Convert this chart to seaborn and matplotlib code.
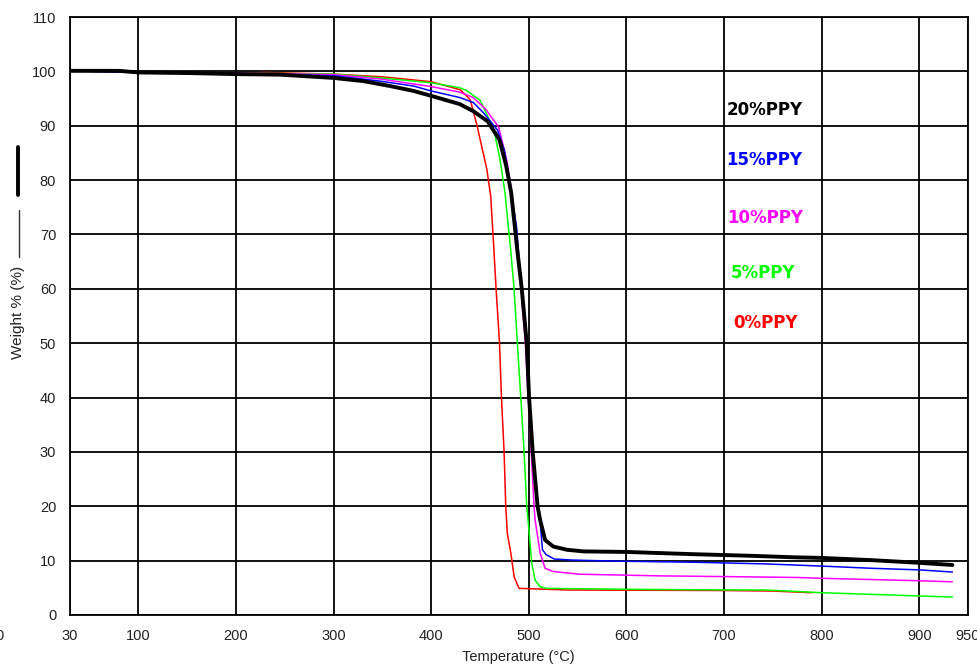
import matplotlib
matplotlib.use("Agg")
import matplotlib.pyplot as plt
import seaborn as sns
import pandas as pd
from matplotlib.lines import Line2D

# --- data (temperature in C, weight %) ---
t_0 = [30, 80, 100, 200, 230, 300, 350, 400, 430, 440, 447, 452, 457, 461, 464,
       466.5, 470, 472, 474.7, 476.4, 478, 481.6, 485, 490, 540, 700, 750, 790]
w_0 = [100.1, 100, 99.8, 99.6, 99.8, 99.5, 99.0, 98.1, 96.6, 94.8, 90, 86, 82, 77, 68,
       60, 50, 40, 30, 20, 15, 11.4, 7.0, 4.9, 4.6, 4.5, 4.4, 4.1]

t_5 = [30, 80, 100, 200, 300, 348, 400, 429, 436, 450, 458, 465, 470.6, 475.7, 479,
       481.5, 484.9, 488.3, 491.8, 495.2, 497.9, 500, 503, 506.5, 511.6, 518, 539,
       621, 717, 743, 800, 850, 900, 934]
w_5 = [100.1, 99.9, 99.8, 99.7, 99.5, 98.8, 97.9, 97.0, 96.5, 94.7, 91.7, 88.6, 83.7, 77.6, 71.4,
       67.1, 60, 50, 40, 30, 20, 16, 9.6, 6.4, 5.2, 4.9, 4.85,
       4.7, 4.6, 4.6, 4.1, 3.8, 3.5, 3.3]

t_10 = [30, 100, 200, 300, 348, 400, 429, 443, 456, 469, 477, 482, 486.5, 489, 492,
        496.5, 499.5, 502.5, 505.4, 506.5, 511.6, 516.7, 525, 552, 634, 732, 776, 800, 900, 934]
w_10 = [100.1, 99.8, 99.7, 99.4, 98.6, 97.2, 96.2, 95.2, 93, 89.8, 84, 78.5, 71.4, 65.3, 60,
        50, 40, 30, 20, 17.5, 11.4, 8.6, 8.0, 7.5, 7.2, 7.0, 6.9, 6.75, 6.3, 6.1]

t_15 = [30, 100, 200, 300, 348, 382, 400, 429, 443, 454, 468, 475, 481, 487.5, 490,
        493, 498, 500.5, 504.2, 509.5, 511.5, 514, 517.8, 526, 545, 592, 671, 742, 800, 850, 900, 934]
w_15 = [100.1, 99.8, 99.6, 99.2, 98.2, 97.3, 96.4, 95.2, 94.3, 92.3, 89.2, 85.5, 78.8, 71.4, 65.3,
        60, 50, 40, 30, 20, 17.5, 12.0, 11.1, 10.3, 10.1, 9.9, 9.7, 9.4, 9.0, 8.6, 8.3, 7.9]

t_20 = [30, 80, 100, 150, 200, 245, 300, 331, 358, 382, 400, 429, 443, 458, 470, 477, 482,
        488.3, 492.8, 497.9, 500.3, 504, 509, 511.6, 516.7, 525, 539, 556, 600, 666, 726,
        774, 800, 850, 900, 934]
w_20 = [100.1, 100.1, 99.8, 99.7, 99.5, 99.4, 98.8, 98.2, 97.3, 96.4, 95.5, 94.0, 92.7, 90.8, 87.4, 82.5, 77.6,
        67, 60, 50, 40, 30, 20, 17.5, 13.8, 12.6, 12.0, 11.7, 11.6, 11.2, 10.9,
        10.6, 10.5, 10.1, 9.6, 9.2]

labels = ["0%PPY", "5%PPY", "10%PPY", "15%PPY", "20%PPY"]
colors = ["#ff0000", "#00ff00", "#ff00ff", "#0000ff", "#000000"]
label_pos = [(709, 53.7), (707, 62.9), (703, 73.0), (702, 83.7), (703, 92.9)]

x_ticks = [30, 100, 200, 300, 400, 500, 600, 700, 800, 900, 950]
y_ticks = list(range(0, 111, 10))

sns.set_style("white")
plt.rcParams['font.family'] = ['Liberation Sans', 'DejaVu Sans']

fig = plt.figure(figsize=(9.77, 6.65), dpi=100)
ax = fig.add_axes([0.0717, 0.0752, 0.9191, 0.8992])

series = [(t_0, w_0), (t_5, w_5), (t_10, w_10), (t_15, w_15), (t_20, w_20)]
for (t, w), lab, col in zip(series, labels, colors):
    df = pd.DataFrame({"T": t, "W": w})
    lw = 2.8 if lab == "20%PPY" else 1.1
    sns.lineplot(data=df, x="T", y="W", color=col, lw=lw, estimator=None,
                 sort=False, ax=ax, zorder=3)

for lab, col, (tx, ty) in zip(labels, colors, label_pos):
    ax.text(tx, ty, lab, color=col, fontsize=12, fontweight='bold',
            family='DejaVu Sans', ha='left', va='center', zorder=4)

ax.set_xlim(30, 950)
ax.set_ylim(0, 110)
ax.set_xticks(x_ticks)
ax.set_yticks(y_ticks)
ax.grid(True, color='black', lw=1.3)
ax.set_axisbelow(True)
for s in ax.spines.values():
    s.set_color('black')
    s.set_linewidth(1.3)
ax.tick_params(direction='out', length=4, width=1.2, color='black',
               labelsize=10.5, labelcolor='#222222')
ax.tick_params(axis='x', pad=6)
ax.tick_params(axis='y', pad=6)
ax.set_xlabel("")
ax.set_ylabel("")

# axis titles placed like the original
fig.text(518 / 977, 1 - 657 / 665, "Temperature (°C)", ha='center', va='center',
         fontsize=10.5, color='#222222')
fig.text(18 / 977, 1 - 312 / 665, "Weight % (%)", ha='center', va='center',
         rotation=90, fontsize=11, color='#222222')
# line-style keys next to the y title
fig.add_artist(Line2D([18 / 977, 18 / 977], [1 - 147 / 665, 1 - 195 / 665],
                      color='black', lw=2.8, transform=fig.transFigure))
fig.add_artist(Line2D([18.5 / 977, 18.5 / 977], [1 - 210 / 665, 1 - 257 / 665],
                      color='#333333', lw=1.0, transform=fig.transFigure))
# stray clipped label at the lower left
fig.text(0.0, 1 - 636 / 665, "0", ha='center', va='center', fontsize=10.5, color='#222222')

fig.savefig("out.png", dpi=100)
